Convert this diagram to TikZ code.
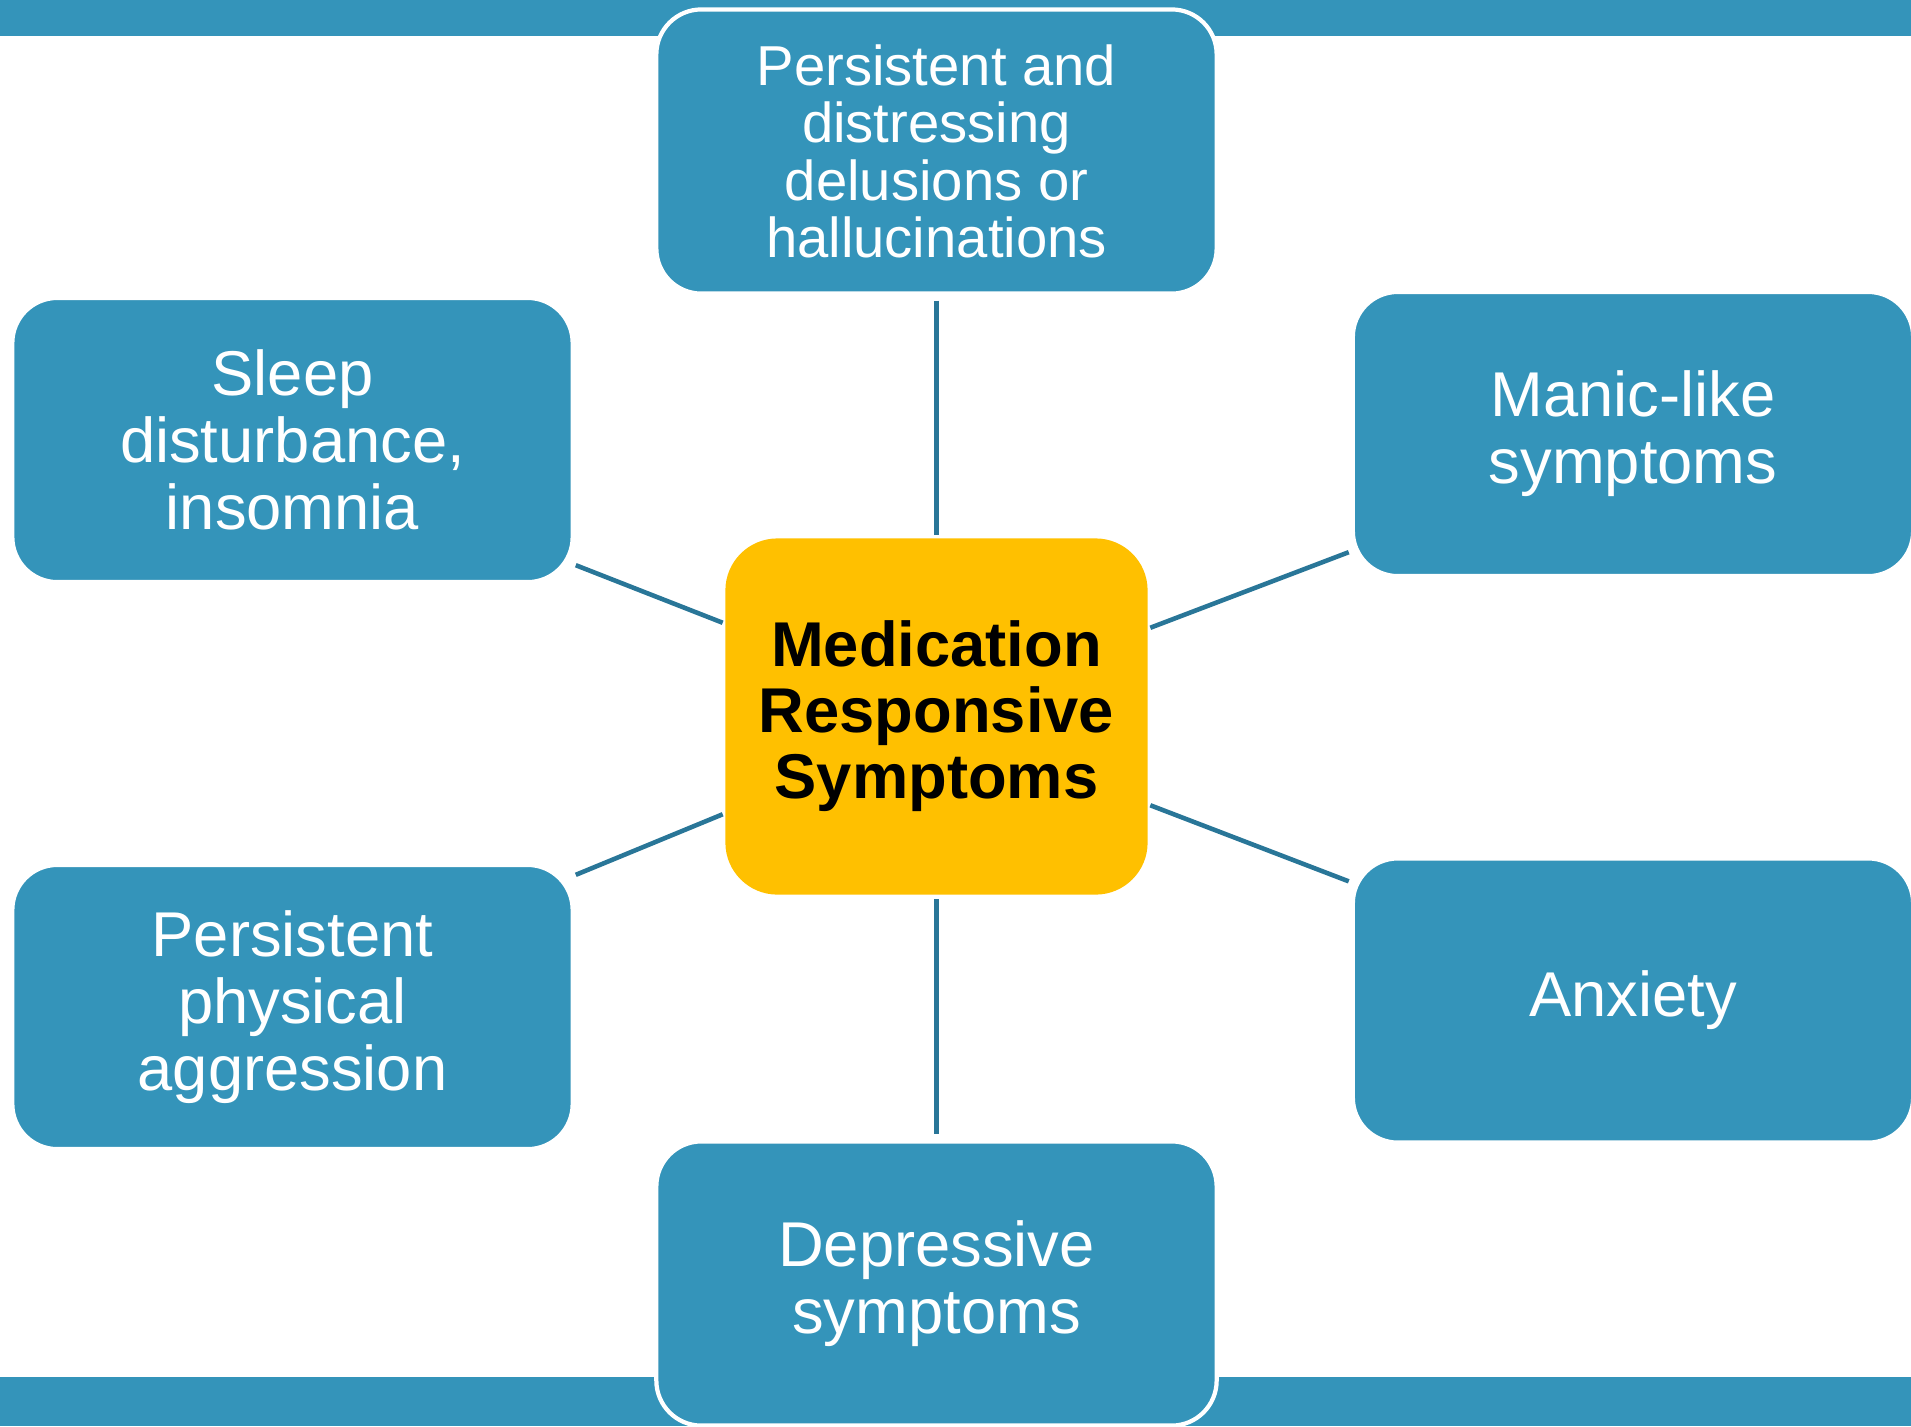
\documentclass[tikz,border=0pt]{standalone}
\usepackage{fontspec}
\setmainfont{Liberation Sans}

\definecolor{boxblue}{RGB}{52,148,186}
\definecolor{linkblue}{RGB}{41,118,152}
\definecolor{mrsgold}{RGB}{255,192,0}

\tikzset{
    symbox/.style={rectangle, rounded corners=0.45cm, fill=boxblue, draw=white, line width=1.2pt,
        text=white, align=center, inner sep=0pt, minimum width=5.6cm, minimum height=2.84cm,
        font=\fontsize{18}{19}\selectfont},
    mrsbox/.style={rectangle, rounded corners=0.52cm, fill=mrsgold, align=center, inner sep=0pt,
        minimum width=4.22cm, minimum height=3.56cm, font=\fontsize{18}{18.8}\selectfont\bfseries},
    link/.style={linkblue, line width=1.3pt}
}

\begin{document}
\begin{tikzpicture}[x=0.01cm, y=-0.01cm]

            \useasboundingbox (0,0) rectangle (1911,1426);

            \fill[boxblue] (0,0) rectangle (1911,36);
            \fill[boxblue] (0,1377) rectangle (1911,1426);

            \node[symbox, font=\fontsize{16}{16.3}\selectfont] (delus) at (936.5,151.5)
                {Persistent and\\distressing\\delusions or\\hallucinations};
            \node[symbox] (sleep) at (292.5,440) {Sleep\\disturbance,\\insomnia};
            \node[symbox] (manic) at (1633,434) {Manic-like\\symptoms};
            \node[symbox] (aggr) at (292.5,1007) {Persistent\\physical\\aggression};
            \node[symbox] (anx) at (1633,1000.5) {Anxiety};
            \node[symbox] (depr) at (936.5,1283.5) {Depressive\\symptoms};

            \node[mrsbox] (mrs) at (936.5,716.5) {Medication\\Responsive\\Symptoms};

            \draw[link, shorten <=0.05cm, shorten >=0.03cm] (delus.south) -- (mrs.north);
            \draw[link, shorten <=0.04cm, shorten >=0.05cm] (mrs.south) -- (depr.north);
            \draw[link] ([xshift=0.01cm, yshift=0.19cm]sleep.south east) -- ([xshift=-0.02cm, yshift=-0.85cm]mrs.north west);
            \draw[link] ([xshift=0.02cm, yshift=-0.9cm]mrs.north east) -- ([xshift=-0.02cm, yshift=0.26cm]manic.south west);
            \draw[link] ([xshift=0.01cm, yshift=-0.12cm]aggr.north east) -- ([xshift=-0.02cm, yshift=0.81cm]mrs.south west);
            \draw[link] ([xshift=0.02cm, yshift=0.9cm]mrs.south east) -- ([xshift=-0.02cm, yshift=-0.25cm]anx.north west);

        \end{tikzpicture}
\end{document}
